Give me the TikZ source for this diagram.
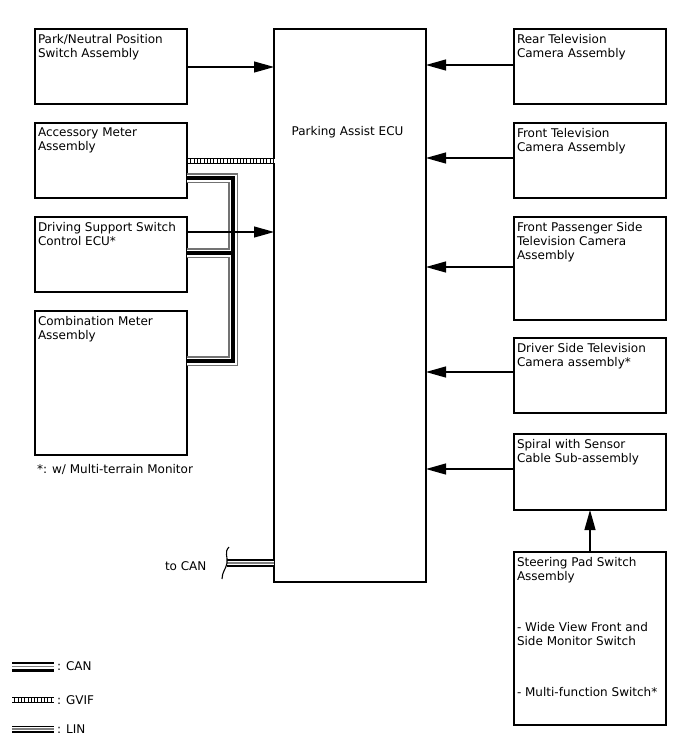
\documentclass[tikz,border=0pt]{standalone}
\usepackage{fontspec}
\setmainfont{DejaVu Sans}
\usetikzlibrary{arrows.meta,calc}
\begin{document}
\begin{tikzpicture}[x=1pt,y=-1pt,
  box/.style={draw=black,line width=1.2pt,anchor=north west,inner sep=0pt,outer sep=0pt},
  lbl/.style={anchor=north west,inner sep=0pt,outer sep=0pt,align=left,font=\fontsize{12}{14}\selectfont},
  txt/.style={inner sep=0pt,outer sep=0pt,font=\fontsize{12}{14}\selectfont},
  arr/.style={line width=1.2pt,-{Triangle[length=20pt,width=11pt]}},
  bus/.style={draw=black!55,line width=9.5pt,line cap=butt,
    postaction={draw=white,line width=7pt},
    postaction={draw=black,line width=3.2pt}},
  canw/.style={draw=black,line width=10pt,line cap=butt,
    postaction={draw=white,line width=4.4pt},
    postaction={draw=black!50,line width=1.4pt}},
  canb/.style={draw=black,line width=8pt,line cap=butt,
    postaction={draw=white,line width=3.4pt},
    postaction={draw=black!50,line width=1.3pt}},
  linw/.style={draw=black,line width=7pt,line cap=butt,
    postaction={draw=white,line width=4.4pt},
    postaction={draw=black!50,line width=1.4pt}},
  gvif/.style={draw=black,line width=6.5pt,line cap=butt,
    postaction={draw=white,line width=4pt,dash pattern=on 2.3pt off 1pt}}
]
\useasboundingbox (0,0) rectangle (688,755);
% left boxes
\node[box,minimum width=152pt,minimum height=75pt] (park) at (35,29) {};
\node[box,minimum width=152pt,minimum height=75pt] (acc) at (35,123) {};
\node[box,minimum width=152pt,minimum height=75pt] (drv) at (35,217) {};
\node[box,minimum width=152pt,minimum height=144pt] (comb) at (35,311) {};
% ECU
\node[box,minimum width=152pt,minimum height=553pt] (ecu) at (274,29) {};
% right boxes
\node[box,minimum width=152pt,minimum height=75pt] (rear) at (514,29) {};
\node[box,minimum width=152pt,minimum height=75pt] (front) at (514,123) {};
\node[box,minimum width=152pt,minimum height=103pt] (pass) at (514,217) {};
\node[box,minimum width=152pt,minimum height=75pt] (dside) at (514,338) {};
\node[box,minimum width=152pt,minimum height=76pt] (spiral) at (514,434) {};
\node[box,minimum width=152pt,minimum height=173pt] (steer) at (514,552) {};
% labels
\node[lbl] (parkt) at ([shift={(3,5)}]park.north west) {Park/Neutral Position\\Switch Assembly};
\node[lbl] (acct) at ([shift={(3,5)}]acc.north west) {Accessory Meter\\Assembly};
\node[lbl] (drvt) at ([shift={(3,5)}]drv.north west) {Driving Support Switch\\Control ECU*};
\node[lbl] (combt) at ([shift={(3,5)}]comb.north west) {Combination Meter\\Assembly};
\node[txt,anchor=base] (ecut) at (347.5,135) {Parking Assist ECU};
\node[lbl] (reart) at ([shift={(3,5)}]rear.north west) {Rear Television\\Camera Assembly};
\node[lbl] (frontt) at ([shift={(3,5)}]front.north west) {Front Television\\Camera Assembly};
\node[lbl] (passt) at ([shift={(3,5)}]pass.north west) {Front Passenger Side\\Television Camera\\Assembly};
\node[lbl] (dsidet) at ([shift={(3,5)}]dside.north west) {Driver Side Television\\Camera assembly*};
\node[lbl] (spiralt) at ([shift={(3,5)}]spiral.north west) {Spiral with Sensor\\Cable Sub-assembly};
\node[lbl] (steert1) at ([shift={(3,5)}]steer.north west) {Steering Pad Switch\\Assembly};
\node[lbl] (steert2) at ([shift={(3,70)}]steer.north west) {- Wide View Front and\\Side Monitor Switch};
\node[lbl] (steert3) at ([shift={(3,135)}]steer.north west) {- Multi-function Switch*};
\node[txt,anchor=base west] (note) at (37,473) {*: w/ Multi-terrain Monitor};
\node[txt,anchor=base west] (tocan) at (165,570) {to CAN};
% bus wiring
\coordinate (b1) at (233,178);
\coordinate (b2) at (233,361);
\coordinate (b3) at (233,253);
\path[bus] (acc.east |- b1) -- (b1) -- (b2) -- (comb.east |- b2)
  (b3) -- (drv.east |- b3);
% GVIF
\coordinate (g1) at (188,161);
\path[gvif] (g1) -- (ecu.west |- g1);
% arrows
\draw[arr] (park.east |- 0,67) -- (ecu.west |- 0,67);
\draw[arr] (drv.east |- 0,232) -- (ecu.west |- 0,232);
\draw[arr] (rear.west |- 0,65) -- (ecu.east |- 0,65);
\draw[arr] (front.west |- 0,158) -- (ecu.east |- 0,158);
\draw[arr] (pass.west |- 0,267) -- (ecu.east |- 0,267);
\draw[arr] (dside.west |- 0,372) -- (ecu.east |- 0,372);
\draw[arr] (spiral.west |- 0,469) -- (ecu.east |- 0,469);
\draw[arr] (steer.north -| 590,0) -- (spiral.south -| 590,0);
% to CAN
\coordinate (c1) at (227,563);
\path[canb] (c1) -- (ecu.west |- c1);
\coordinate (k1) at (229,547);
\coordinate (k2) at (222,579);
\draw[line width=1.1pt] (k1) .. controls (224,552) and (228,557) .. (227,563)
  .. controls (226,569) and (222,572) .. (k2);
% legend
\coordinate (l1) at (12,666.5);
\coordinate (l2) at (54,666.5);
\path[canw] (l1) -- (l2);
\node[txt,anchor=base west] (lcan) at (57,670.5) {: CAN};
\coordinate (l3) at (12,700);
\coordinate (l4) at (54,700);
\path[gvif] (l3) -- (l4);
\node[txt,anchor=base west] (lgvif) at (57,704) {: GVIF};
\coordinate (l5) at (12,729);
\coordinate (l6) at (54,729);
\path[linw] (l5) -- (l6);
\node[txt,anchor=base west] (llin) at (57,733) {: LIN};
\end{tikzpicture}
\end{document}
